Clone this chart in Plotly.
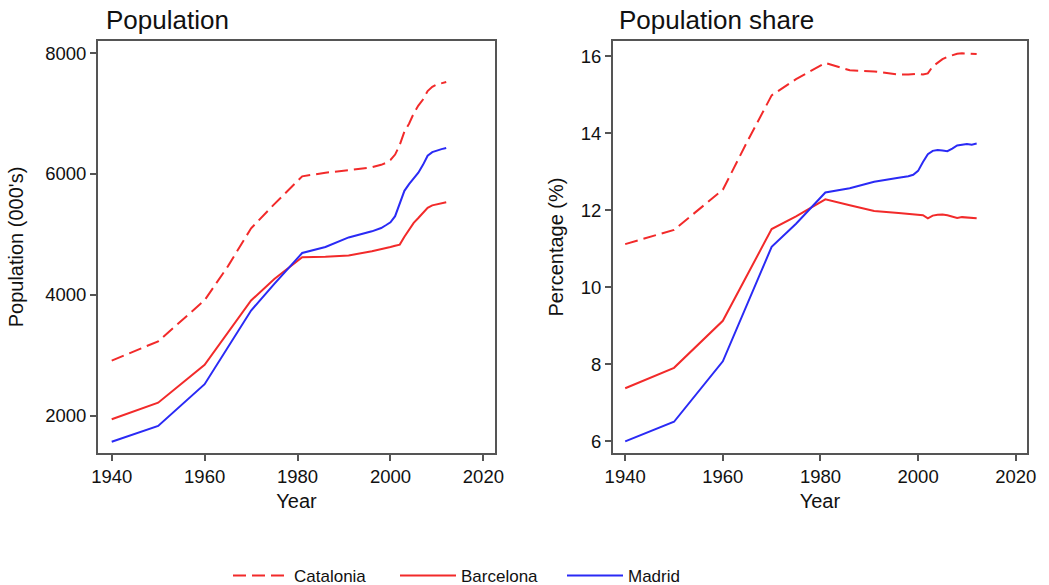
import plotly.graph_objects as go

years = [1940, 1950, 1960, 1965, 1970, 1975, 1981, 1986, 1991, 1996, 1998, 1999,
         2000, 2001, 2002, 2003, 2004, 2005, 2006, 2007, 2008, 2009, 2010, 2011, 2012]

# Population (000's)
pop_catalonia = [2910, 3230, 3910, 4470, 5100, 5500, 5960, 6020, 6060, 6110, 6150, 6180,
                 6230, 6320, 6480, 6700, 6830, 7000, 7130, 7230, 7370, 7440, 7480, 7505, 7520]
pop_barcelona = [1940, 2215, 2840, 3370, 3905, 4260, 4620, 4630, 4651, 4720, 4750, 4770,
                 4790, 4810, 4830, 4960, 5080, 5190, 5270, 5350, 5440, 5480, 5500, 5515, 5530]
pop_madrid = [1569, 1829, 2520, 3120, 3740, 4180, 4691, 4790, 4949, 5050, 5105, 5150,
              5200, 5300, 5520, 5720, 5830, 5930, 6020, 6150, 6300, 6360, 6390, 6410, 6430]

# Population share (%)
share_catalonia = [11.12, 11.49, 12.53, 13.78, 14.98, 15.40, 15.82, 15.63, 15.60, 15.52, 15.52, 15.53,
                   15.54, 15.52, 15.55, 15.73, 15.82, 15.92, 15.98, 16.02, 16.06, 16.07, 16.06, 16.05, 16.05]
share_barcelona = [7.38, 7.91, 9.13, 10.30, 11.51, 11.84, 12.28, 12.13, 11.98, 11.93, 11.90, 11.89,
                   11.88, 11.87, 11.79, 11.86, 11.88, 11.89, 11.87, 11.83, 11.80, 11.82, 11.81, 11.81, 11.79]
share_madrid = [6.00, 6.51, 8.08, 9.55, 11.05, 11.65, 12.46, 12.57, 12.74, 12.84, 12.88, 12.92,
                13.02, 13.25, 13.45, 13.54, 13.56, 13.55, 13.53, 13.60, 13.68, 13.70, 13.72, 13.70, 13.73]

names = ["Catalonia", "Barcelona", "Madrid"]
x_ticks = [1940, 1960, 1980, 2000, 2020]
pop_ticks = [2000, 4000, 6000, 8000]
share_ticks = [6, 8, 10, 12, 14, 16]

RED = "#f22a2a"
BLUE = "#2a2af5"
FRAME = "#555555"
FONT = "Liberation Sans, Arial, Helvetica, sans-serif"

fig = go.Figure()
styles = [dict(color=RED, width=2, dash="13px,6px"),
          dict(color=RED, width=2),
          dict(color=BLUE, width=2)]

for name, ys, st in zip(names, [pop_catalonia, pop_barcelona, pop_madrid], styles):
    fig.add_trace(go.Scatter(x=years, y=ys, mode="lines", name=name, line=st,
                             xaxis="x", yaxis="y", showlegend=True))
for name, ys, st in zip(names, [share_catalonia, share_barcelona, share_madrid], styles):
    fig.add_trace(go.Scatter(x=years, y=ys, mode="lines", name=name, line=st,
                             xaxis="x2", yaxis="y2", showlegend=False))

W, H = 1049, 585
axis_common = dict(showline=True, mirror=True, linecolor=FRAME, linewidth=2,
                   ticks="outside", ticklen=6, tickwidth=1.5, tickcolor=FRAME,
                   showgrid=False, zeroline=False,
                   tickfont=dict(family=FONT, size=18.5, color="#111111"))

fig.update_layout(
    width=W, height=H,
    margin=dict(l=0, r=0, t=0, b=0, autoexpand=False),
    paper_bgcolor="white", plot_bgcolor="white",
    font=dict(family=FONT, color="#111111"),
    xaxis=dict(domain=[98 / W, 495 / W], range=[1937.05, 2022.5], tickvals=x_ticks,
               title=dict(text="Year", font=dict(size=20), standoff=8), anchor="y", **axis_common),
    yaxis=dict(domain=[1 - 453 / H, 1 - 41 / H], range=[1382, 8199], tickvals=pop_ticks,
               title=dict(text="Population (000's)", font=dict(size=20), standoff=16), anchor="x",
               **axis_common),
    xaxis2=dict(domain=[613 / W, 1026.7 / W], range=[1937.5, 2022.25], tickvals=x_ticks,
                title=dict(text="Year", font=dict(size=20), standoff=8), anchor="y2", **axis_common),
    yaxis2=dict(domain=[1 - 453 / H, 1 - 41 / H], range=[5.70, 16.39], tickvals=share_ticks,
                title=dict(text="Percentage (%)", font=dict(size=20), standoff=12), anchor="x2",
                **axis_common),
    legend=dict(orientation="h", x=228 / W, xanchor="left", y=1 - 576 / H, yanchor="middle",
                font=dict(family=FONT, size=17, color="#111111"),
                entrywidth=96, entrywidthmode="pixels", itemwidth=56),
    annotations=[
        dict(text="Population", xref="paper", yref="paper", x=104 / W, y=1 - 20 / H,
             xanchor="left", yanchor="middle", showarrow=False,
             font=dict(family=FONT, size=26, color="#111111")),
        dict(text="Population share", xref="paper", yref="paper", x=617 / W, y=1 - 20 / H,
             xanchor="left", yanchor="middle", showarrow=False,
             font=dict(family=FONT, size=26, color="#111111")),
    ],
)

fig.write_html("out.html")
